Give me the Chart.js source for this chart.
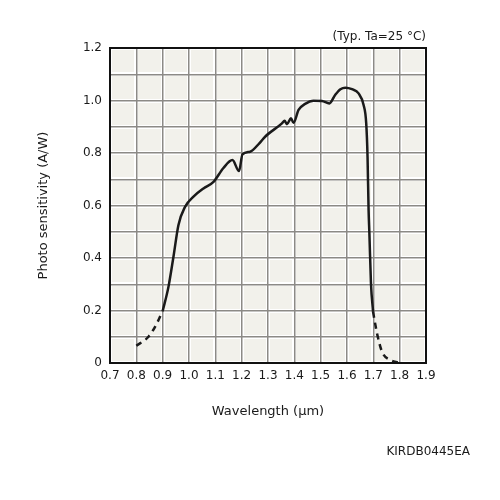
<!DOCTYPE html>
<html>
<head>
<meta charset="utf-8">
<script src="https://cdn.jsdelivr.net/npm/chart.js@4"></script>
<style>
  html, body { margin: 0; padding: 0; background: #fff; }
  #wrap { width: 500px; height: 500px; }
</style>
</head>
<body>
<div id="wrap"><canvas id="sens" width="500" height="500"></canvas></div>
<script>
// values
var lowTailWl   = [0.80, 0.846, 0.875, 0.90];
var lowTailSens = [0.066, 0.10, 0.145, 0.198];

var mainWl   = [0.90, 0.922, 0.941, 0.96, 0.985, 1.017, 1.055, 1.093, 1.13, 1.165, 1.19, 1.203, 1.232, 1.267, 1.289, 1.353, 1.363, 1.372, 1.387, 1.397, 1.416, 1.441, 1.473, 1.505, 1.533, 1.555, 1.575, 1.594, 1.619, 1.644, 1.663, 1.673, 1.678, 1.682, 1.685, 1.691, 1.699];
var mainSens = [0.198, 0.29, 0.405, 0.526, 0.595, 0.634, 0.665, 0.69, 0.742, 0.773, 0.731, 0.795, 0.805, 0.837, 0.862, 0.913, 0.923, 0.91, 0.932, 0.915, 0.964, 0.987, 0.999, 0.998, 0.989, 1.021, 1.043, 1.049, 1.043, 1.027, 0.983, 0.913, 0.786, 0.583, 0.494, 0.304, 0.195];

var highTailWl   = [1.699, 1.714, 1.733, 1.765, 1.796];
var highTailSens = [0.195, 0.113, 0.043, 0.011, 0.001];

var xTickLabels = ['0.7', '0.8', '0.9', '1.0', '1.1', '1.2', '1.3', '1.4', '1.5', '1.6', '1.7', '1.8', '1.9'];
var yTickLabels = ['0', '0.2', '0.4', '0.6', '0.8', '1.0', '1.2'];

function pts(xs, ys) {
    return xs.map(function(x, i) { return {x: x, y: ys[i]}; });
}

var tickFont = {family: 'DejaVu Sans', size: 12};
var ink = '#1a1a1a';

var frame = {
    id: 'frame',
    beforeDraw: function(chart) {
        var a = chart.chartArea, c = chart.ctx;
        c.save();
        c.fillStyle = '#f2f1eb';
        c.fillRect(a.left, a.top, a.right - a.left, a.bottom - a.top);
        c.restore();
    },
    afterDraw: function(chart) {
        var a = chart.chartArea, c = chart.ctx;
        c.save();
        c.strokeStyle = '#111';
        c.lineWidth = 2;
        c.strokeRect(a.left, a.top, a.right - a.left, a.bottom - a.top);
        c.fillStyle = ink;
        c.font = '12px "DejaVu Sans"';
        c.textAlign = 'right';
        c.textBaseline = 'middle';
        c.fillText('(Typ. Ta=25 \u00b0C)', a.right, a.top - 11);
        c.fillText('KIRDB0445EA', 470, 452);
        c.restore();
    }
};

function haloAxis() {
    return {
        type: 'linear',
        display: true,
        ticks: {display: false, stepSize: 0.1},
        grid: {color: '#ffffff', lineWidth: 4, drawTicks: false, z: -2},
        border: {display: false}
    };
}

var xHalo = haloAxis();
xHalo.position = 'bottom'; xHalo.min = 0.7; xHalo.max = 1.9;
xHalo.afterFit = function(s) { s.height = 0; };
var yHalo = haloAxis();
yHalo.position = 'left'; yHalo.min = 0; yHalo.max = 1.2;
yHalo.afterFit = function(s) { s.width = 0; };

var ctx = document.getElementById('sens').getContext('2d');
var chart = new Chart(ctx, {
    type: 'line',
    data: {
        datasets: [
            {data: pts(lowTailWl, lowTailSens), borderColor: ink, borderWidth: 2.5, borderDash: [6, 5], pointRadius: 0, cubicInterpolationMode: 'monotone', fill: false},
            {data: pts(mainWl, mainSens), borderColor: ink, borderWidth: 2.5, pointRadius: 0, cubicInterpolationMode: 'monotone', fill: false},
            {data: pts(highTailWl, highTailSens), borderColor: ink, borderWidth: 2.5, borderDash: [6, 5], pointRadius: 0, cubicInterpolationMode: 'monotone', fill: false}
        ]
    },
    options: {
        responsive: false,
        animation: false,
        layout: {padding: {top: 48, right: 74, left: 0, bottom: 0}},
        plugins: {legend: {display: false}, tooltip: {enabled: false}},
        scales: {
            xh: xHalo,
            yh: yHalo,
            x: {
                type: 'linear',
                position: 'bottom',
                min: 0.7, max: 1.9,
                afterFit: function(s) { s.height = 137; },
                grid: {color: '#8c8a86', lineWidth: 1.5, drawTicks: false},
                border: {display: false},
                ticks: {
                    stepSize: 0.1, padding: 6, color: ink, font: tickFont, maxRotation: 0, autoSkip: false,
                    callback: function(v) {
                        var i = Math.round((v - 0.7) * 10);
                        return xTickLabels[i];
                    }
                },
                title: {display: true, text: 'Wavelength (\u03bcm)', color: ink, font: {family: 'DejaVu Sans', size: 13}, padding: {top: 0, bottom: 81}}
            },
            y: {
                type: 'linear',
                position: 'left',
                min: 0, max: 1.2,
                afterFit: function(s) { s.width = 110; },
                grid: {color: '#8c8a86', lineWidth: 1.5, drawTicks: false},
                border: {display: false},
                ticks: {
                    stepSize: 0.1, padding: 8, color: ink, font: tickFont, autoSkip: false,
                    callback: function(v) {
                        var i = Math.round(v * 10);
                        return i % 2 === 0 ? yTickLabels[i / 2] : '';
                    }
                },
                title: {display: true, text: 'Photo sensitivity (A/W)', color: ink, font: {family: 'DejaVu Sans', size: 13}, padding: {top: 36, bottom: 0}}
            }
        }
    },
    plugins: [frame]
});
</script>
</body>
</html>
